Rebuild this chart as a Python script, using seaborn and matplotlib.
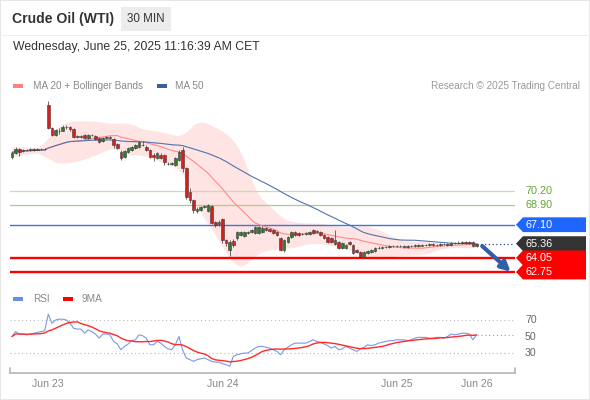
import numpy as np
import pandas as pd
import matplotlib
matplotlib.use("Agg")
import matplotlib.pyplot as plt
import matplotlib.patches as mpatches
import matplotlib.transforms as mtransforms
import seaborn as sns

# 30 min candles
opens = [73.33, 73.70, 74.06, 73.88, 73.97, 73.97, 74.06, 73.97, 74.06, 74.06,
         78.11, 76.00, 75.35, 75.72, 75.72, 76.09, 76.09, 75.90, 75.17, 75.26,
         75.35, 75.08, 75.35, 75.26, 75.08, 74.80, 75.08, 75.17, 74.98, 74.52,
         73.79, 73.33, 73.79, 73.97, 74.16, 74.25, 74.43, 74.25, 73.97, 73.51,
         73.24, 73.51, 73.51, 72.68, 72.68, 72.59, 73.05, 73.97, 72.32, 70.11,
         69.37, 68.36, 68.45, 68.73, 68.36, 68.82, 67.35, 67.16, 67.62, 65.69,
         64.77, 65.60, 65.88, 66.15, 66.06, 66.34, 66.43, 66.34, 66.34, 66.43,
         66.80, 66.70, 66.61, 66.43, 65.88, 64.77, 65.51, 65.97, 66.43, 66.34,
         66.24, 66.24, 66.24, 66.61, 66.52, 66.43, 66.15, 65.97, 65.88, 65.32,
         65.51, 64.96, 64.96, 65.51, 65.23, 64.77, 64.59, 64.13, 64.50, 64.59,
         64.68, 64.96, 64.96, 65.05, 65.05, 65.14, 65.14, 65.14, 65.14, 65.05,
         65.14, 65.14, 65.23, 65.14, 65.23, 65.23, 65.32, 65.23, 65.23, 65.32,
         65.32, 65.23, 65.42, 65.42, 65.42, 65.51, 65.42, 65.51, 65.14]
closes = [73.70, 74.06, 73.79, 73.97, 73.97, 74.06, 73.97, 74.06, 74.06, 74.06,
          76.00, 75.35, 75.81, 75.72, 76.09, 76.09, 75.90, 75.17, 75.26, 75.17,
          75.08, 75.35, 75.35, 74.98, 74.71, 75.08, 75.17, 75.08, 74.43, 74.16,
          73.24, 73.88, 74.16, 74.25, 74.43, 74.71, 74.43, 73.97, 73.33, 73.33,
          73.70, 73.24, 72.87, 72.68, 72.78, 73.24, 73.79, 72.32, 69.65, 69.37,
          68.45, 68.54, 68.73, 68.82, 68.91, 67.26, 67.07, 67.35, 65.69, 65.42,
          65.51, 65.23, 66.43, 66.43, 66.43, 66.43, 66.61, 66.89, 66.89, 66.80,
          66.61, 66.52, 66.34, 66.15, 64.77, 65.69, 65.97, 66.43, 66.15, 66.15,
          66.24, 66.34, 66.43, 66.34, 66.43, 66.15, 65.88, 65.51, 65.51, 65.69,
          64.96, 65.42, 65.23, 65.32, 64.50, 64.59, 64.13, 64.59, 64.68, 64.77,
          64.96, 64.96, 65.05, 65.05, 65.14, 65.14, 65.14, 65.14, 65.05, 65.14,
          65.14, 65.23, 65.14, 65.23, 65.23, 65.32, 65.23, 65.23, 65.32, 65.32,
          65.23, 65.42, 65.42, 65.42, 65.51, 65.42, 65.51, 65.14, 65.36]
highs = [73.88, 74.25, 74.16, 74.06, 74.06, 74.16, 74.16, 74.16, 74.16, 74.16,
         78.48, 76.09, 75.90, 76.00, 76.27, 76.27, 76.18, 76.00, 75.35, 75.35,
         75.44, 75.44, 75.44, 75.35, 75.17, 75.17, 75.26, 75.26, 75.08, 74.62,
         73.97, 73.97, 74.25, 74.34, 74.52, 74.80, 74.80, 74.43, 74.06, 73.70,
         73.79, 73.70, 73.60, 72.87, 72.87, 73.33, 73.97, 74.25, 72.41, 70.48,
         69.46, 68.73, 68.82, 68.91, 69.00, 68.91, 67.44, 67.53, 67.72, 65.78,
         65.69, 65.78, 66.52, 66.52, 66.52, 66.52, 66.70, 66.98, 66.98, 66.98,
         66.89, 66.80, 66.70, 66.52, 65.97, 65.78, 66.06, 66.52, 66.52, 66.43,
         66.34, 66.43, 66.52, 66.70, 66.61, 66.52, 66.24, 66.06, 65.97, 66.61,
         65.60, 65.51, 65.32, 65.60, 65.32, 64.86, 64.68, 64.68, 64.77, 64.86,
         65.05, 65.14, 65.14, 65.14, 65.23, 65.23, 65.23, 65.23, 65.23, 65.23,
         65.23, 65.32, 65.32, 65.32, 65.32, 65.42, 65.42, 65.32, 65.42, 65.42,
         65.42, 65.51, 65.51, 65.60, 65.60, 65.60, 65.60, 65.60, 65.42]
lows = [73.14, 73.60, 73.42, 73.79, 73.88, 73.88, 73.88, 73.97, 73.97, 73.97,
        75.90, 75.26, 75.26, 75.44, 75.72, 75.90, 75.72, 75.08, 75.08, 75.08,
        74.98, 74.98, 75.26, 74.89, 74.62, 74.71, 74.98, 74.98, 74.16, 74.06,
        73.05, 73.24, 73.70, 73.88, 74.06, 74.16, 74.34, 73.88, 73.24, 72.96,
        73.14, 73.14, 72.59, 72.59, 72.59, 72.50, 72.96, 71.95, 69.46, 69.10,
        68.18, 68.18, 68.36, 68.64, 68.27, 67.16, 66.89, 66.98, 65.42, 65.14,
        64.22, 65.05, 65.69, 66.06, 65.97, 66.24, 66.34, 66.24, 66.24, 66.34,
        66.52, 66.43, 66.24, 66.06, 64.68, 64.59, 65.42, 65.88, 66.06, 66.06,
        66.15, 66.15, 66.15, 66.24, 66.34, 66.06, 65.78, 65.42, 65.42, 65.23,
        64.86, 64.86, 64.86, 65.23, 64.40, 64.50, 64.04, 64.04, 64.40, 64.50,
        64.59, 64.86, 64.86, 64.96, 64.96, 65.05, 65.05, 65.05, 64.96, 64.96,
        65.05, 65.05, 65.05, 65.14, 65.14, 65.14, 65.14, 65.14, 65.14, 65.23,
        65.14, 65.14, 65.32, 65.32, 65.32, 65.32, 65.32, 65.05, 65.05]
rsi_values = [50, 56, 53, 53, 52, 53, 54, 55, 56, 57,
              77, 66, 70, 71, 71, 70, 66, 60, 59, 59,
              54, 58, 56, 53, 48, 53, 53, 52, 44, 41,
              34, 38, 41, 45, 46, 52, 51, 48, 40, 40,
              44, 42, 38, 35, 34, 40, 50, 34, 24, 22,
              20, 22, 23, 24, 22, 20, 19, 19, 17, 16,
              14, 26, 28, 29, 30, 30, 33, 36, 38, 38,
              37, 36, 34, 32, 28, 34, 37, 40, 42, 42,
              42, 42, 44, 46, 44, 43, 41, 39, 36, 38,
              34, 35, 38, 36, 34, 32, 35, 37, 40, 39,
              40, 42, 43, 44, 45, 45, 46, 46, 46, 45,
              46, 48, 49, 49, 49, 48, 48, 49, 49, 48,
              50, 53, 52, 53, 54, 54, 53, 46, 52]

resistances = [70.20, 68.90]
pivot = 67.10
supports = [64.05, 62.75]
rsi_levels = [70, 50, 30]
tick_pos = [10, 58, 106, 128]
tick_labels = ['Jun 23', 'Jun 24', 'Jun 25', 'Jun 26']

# indicators
df = pd.DataFrame({'o': opens, 'h': highs, 'l': lows, 'c': closes, 'rsi': rsi_values})
df['i'] = np.arange(len(df))
df['ma20'] = df['c'].rolling(20, min_periods=1).mean()
sd = df['c'].rolling(20, min_periods=2).std().bfill()
df['up'] = (df['ma20'] + 2 * sd).rolling(5, center=True, min_periods=1).mean()
df['dn'] = (df['ma20'] - 2 * sd).rolling(5, center=True, min_periods=1).mean()
df['ma50'] = df['c'].rolling(50, min_periods=1).mean()
df['rsi9'] = df['rsi'].rolling(9, min_periods=1).mean()

sns.set_theme(style="white")
plt.rcParams['font.family'] = ['Liberation Sans', 'DejaVu Sans']

W, H = 590, 400
def fx(px):
    return px / W
def fy(py):
    return 1 - py / H

fig = plt.figure(figsize=(5.9, 4.0), dpi=100)
fig.patch.set_facecolor('white')

# header
fig.text(fx(12), fy(19), 'Crude Oil (WTI)', fontsize=10.1, fontweight='bold', color='#333333', va='center')
fig.add_artist(mpatches.Rectangle((fx(121), fy(31)), fx(50), 24 / H, transform=fig.transFigure,
                                  facecolor='#ececec', edgecolor='none'))
fig.text(fx(146), fy(19), '30 MIN', fontsize=8.4, color='#333333', va='center', ha='center')
fig.add_artist(plt.Line2D([0, 1], [fy(35), fy(35)], transform=fig.transFigure, color='#eeeeee', lw=0.8))
fig.text(fx(13), fy(47), 'Wednesday, June 25, 2025 11:16:39 AM CET', fontsize=8.8, color='#333333', va='center')

# legend row
fig.add_artist(mpatches.Rectangle((fx(13), fy(88)), fx(10), 4 / H, transform=fig.transFigure,
                                  facecolor='#ff8080', edgecolor='none'))
fig.text(fx(33), fy(86), 'MA 20 + Bollinger Bands', fontsize=7.2, color='#888888', va='center')
fig.add_artist(mpatches.Rectangle((fx(157), fy(88)), fx(10), 4 / H, transform=fig.transFigure,
                                  facecolor='#3b5e9c', edgecolor='none'))
fig.text(fx(175), fy(86), 'MA 50', fontsize=7.2, color='#888888', va='center')
fig.text(fx(580), fy(86), 'Research \u00a9 2025 Trading Central', fontsize=7.2, color='#999999',
         va='center', ha='right')

# price panel
ax = fig.add_axes([fx(10), fy(283), fx(505), 188 / H])
ax.set_xlim(-0.55, 138.6)
ax.set_ylim(61.74, 79.03)
ax.axis('off')

ax.fill_between(df['i'], df['dn'], df['up'], color='#ffe4e4', lw=0, zorder=1)
sns.lineplot(data=df, x='i', y='ma20', ax=ax, color='#ff8a8a', lw=0.8, zorder=2)
sns.lineplot(data=df, x='i', y='ma50', ax=ax, color='#4f73b0', lw=0.8, zorder=2)

ax.axhline(resistances[0], color='#c4e0ad', lw=0.9, zorder=1.5)
ax.axhline(resistances[1], color='#a6cf88', lw=0.9, zorder=1.5)
ax.axhline(pivot, color='#3f74d8', lw=1.0, zorder=1.5)
for s in supports:
    ax.axhline(s, color='#ff0000', lw=1.7, zorder=1.5)

bull = df['c'] >= df['o']
body_col = np.where(bull, '#2f7a2f', '#d91c1c')
ax.vlines(df['i'], df['l'], df['h'], color='#555555', lw=0.6, zorder=3)
ax.bar(df['i'], df['c'] - df['o'], bottom=df['o'], width=0.72, color=body_col,
       edgecolor='#3a3a3a', linewidth=0.4, zorder=4)

last_i = df['i'].iloc[-1]
last_c = df['c'].iloc[-1]
ax.hlines(last_c, last_i, 138.6, color='#2a4a8a', lw=0.9, linestyles=(0, (1, 2)), zorder=3)
ax.annotate('', xy=(last_i + 10.0, supports[1] - 0.15), xytext=(last_i + 1.0, last_c - 0.05),
            arrowprops=dict(arrowstyle='-|>', color='#2f5fa8', lw=3.0, mutation_scale=14),
            annotation_clip=False, zorder=6)

# right side labels
tr = mtransforms.blended_transform_factory(fig.transFigure, ax.transData)
for r in resistances:
    ax.text(fx(525), r, f'{r:.2f}', transform=tr, fontsize=7.8, color='#62a832', va='center', clip_on=False)

def tag(price, color, label):
    hh = 0.68
    pts = [(fx(516), price), (fx(523), price + hh), (fx(586), price + hh),
           (fx(586), price - hh), (fx(523), price - hh)]
    ax.add_patch(mpatches.Polygon(pts, closed=True, transform=tr, facecolor=color,
                                  edgecolor='none', clip_on=False, zorder=7))
    ax.text(fx(525), price, label, transform=tr, fontsize=7.8, color='white', va='center',
            clip_on=False, zorder=8)

tag(pivot, '#1f66ff', f'{pivot:.2f}')
tag(last_c, '#333333', f'{last_c:.2f}')
for s in supports:
    tag(s, '#ff0000', f'{s:.2f}')

# RSI legend
fig.add_artist(mpatches.Rectangle((fx(13), fy(301)), fx(10), 4 / H, transform=fig.transFigure,
                                  facecolor='#6a8ee0', edgecolor='none'))
fig.text(fx(33), fy(299), 'RSI', fontsize=7.2, color='#888888', va='center')
fig.add_artist(mpatches.Rectangle((fx(63), fy(301)), fx(10), 4 / H, transform=fig.transFigure,
                                  facecolor='#ff0000', edgecolor='none'))
fig.text(fx(82), fy(299), '9MA', fontsize=7.2, color='#888888', va='center')

# RSI panel
ax2 = fig.add_axes([fx(10), fy(373), fx(505), 68 / H])
ax2.set_xlim(-0.55, 138.6)
ax2.set_ylim(5.8, 88.2)
tr2 = mtransforms.blended_transform_factory(fig.transFigure, ax2.transData)
for lv in rsi_levels:
    if lv != 50:
        ax2.axhline(lv, color='#bbbbbb', lw=0.8, linestyle=(0, (1, 2.5)), zorder=1)
    ax2.text(fx(525), lv, str(lv), transform=tr2, fontsize=7.6, color='#666666', va='center', clip_on=False)
sns.lineplot(data=df, x='i', y='rsi', ax=ax2, color='#7b98e6', lw=0.8, zorder=2)
sns.lineplot(data=df, x='i', y='rsi9', ax=ax2, color='#ff2a2a', lw=1.0, zorder=3)
ax2.hlines(df['rsi'].iloc[-1], last_i, 138.6, color='#8a9cc8', lw=0.8, linestyles=(0, (1, 2.5)), zorder=1)

for side in ['top', 'right', 'left']:
    ax2.spines[side].set_visible(False)
ax2.spines['bottom'].set_color('#bbbbbb')
ax2.spines['bottom'].set_linewidth(1.3)
ax2.plot([0, 0], [0, 0.08], transform=ax2.transAxes, color='#bbbbbb', lw=1.3, clip_on=False)
ax2.plot([1, 1], [0, 0.08], transform=ax2.transAxes, color='#bbbbbb', lw=1.3, clip_on=False)
ax2.set_xticks(tick_pos, tick_labels)
ax2.set_yticks([])
ax2.tick_params(axis='x', length=0, pad=4, labelsize=7.6, labelcolor='#888888')
ax2.set_xlabel('')
ax2.set_ylabel('')
ax2.set_facecolor('none')

fig.add_artist(mpatches.Rectangle((0, 0), 1, 1, transform=fig.transFigure, fill=False,
                                  edgecolor='#e2e2e2', lw=1.2))

fig.savefig('out.png', dpi=100, facecolor='white')
